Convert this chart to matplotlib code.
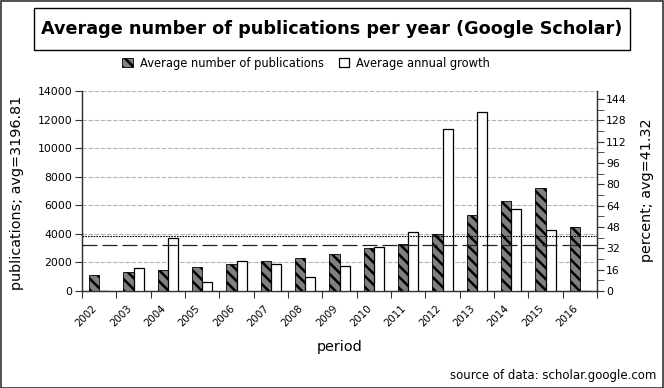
import matplotlib
matplotlib.use('Agg')
import matplotlib.pyplot as plt
import numpy as np
from matplotlib.patches import Rectangle, Patch
from matplotlib.lines import Line2D
from matplotlib.ticker import MultipleLocator

# ---- data ----
years = ['2002', '2003', '2004', '2005', '2006', '2007', '2008', '2009',
         '2010', '2011', '2012', '2013', '2014', '2015', '2016']
publications = [1120, 1307, 1493, 1657, 1890, 2100, 2287, 2567,
                2987, 3290, 3967, 5320, 6320, 7210, 4480]
growth = [0, 17.5, 39.5, 6.5, 22.75, 20.0, 10.5, 18.5,
          33.0, 44.5, 121.3, 134.5, 61.7, 45.75, 0]
avg_publications = 3196.81
avg_growth = 41.32
left_ticks = list(range(0, 14001, 2000))
right_ticks = list(range(0, 145, 16))

title = 'Average number of publications per year (Google Scholar)'
series_names = ['Average number of publications', 'Average annual growth']

plt.rcParams['font.family'] = ['DejaVu Sans']
plt.rcParams['hatch.linewidth'] = 1.8
plt.rcParams['hatch.color'] = 'black'

W, H = 664, 388
fig = plt.figure(figsize=(W / 100, H / 100), dpi=100)

# outer border
fig.patches.append(Rectangle((0.5 / W, 0.5 / H), 1 - 1.5 / W, 1 - 1.5 / H,
                             transform=fig.transFigure, fill=False,
                             edgecolor='#333333', linewidth=1.2, zorder=0))
# title box
fig.patches.append(Rectangle((34 / W, 1 - 50 / H), (630 - 34) / W, 42 / H,
                             transform=fig.transFigure, facecolor='white',
                             edgecolor='black', linewidth=1.0, zorder=1))
fig.text(332 / W, 1 - 29 / H, title, ha='center', va='center',
         fontsize=12.7, fontweight='bold', zorder=2)

ax = fig.add_axes([82 / W, 1 - 291 / H, 515 / W, 200 / H])
ax2 = ax.twinx()

x = np.arange(len(years))
w = 0.3
ax.bar(x - w / 2, publications, w, color='#808080', edgecolor='black',
       hatch='\\\\\\', linewidth=0.6, zorder=3)
ax2.bar(x + w / 2, growth, w, color='white', edgecolor='black',
        linewidth=0.9, zorder=3)

ax.set_xlim(-0.5, len(years) - 0.5)
ax.set_ylim(0, 14000)
ax2.set_ylim(0, 150)

ax.set_axisbelow(True)
ax.yaxis.grid(True, color='#b3b3b3', linestyle=(0, (4, 1.5)), linewidth=0.8)

# average lines (on top)
ax2.add_line(Line2D([0, 1], [avg_publications, avg_publications],
                    transform=ax.get_yaxis_transform(), color='#222222',
                    linewidth=0.9, linestyle=(0, (12, 4)), zorder=5))
ax2.add_line(Line2D([0, 1], [avg_growth, avg_growth],
                    transform=ax2.get_yaxis_transform(), color='black',
                    linewidth=0.8, linestyle=(0, (1.5, 1)), zorder=5))

# ticks
ax.set_xticks(np.arange(-0.5, len(years), 1.0))
ax.set_xticklabels([])
ax.set_xticks(x, minor=True)
ax.set_xticklabels(years, minor=True, rotation=45, ha='right', fontsize=7.4)
ax.tick_params(axis='x', which='major', length=5, direction='out', color='#333333')
ax.tick_params(axis='x', which='minor', length=0, pad=9)

ax.set_yticks(left_ticks)
ax.tick_params(axis='y', length=5, direction='out', labelsize=7.8, pad=2, color='#333333')
ax2.set_yticks(right_ticks)
ax2.yaxis.set_minor_locator(MultipleLocator(8))
ax2.tick_params(axis='y', which='both', length=5, direction='out', labelsize=7.8, pad=1.5, color='#333333')

for a in (ax, ax2):
    a.spines['top'].set_visible(False)
    for s in ('left', 'right', 'bottom'):
        a.spines[s].set_color('#333333')
        a.spines[s].set_linewidth(0.9)

ax.set_ylabel('publications; avg=3196.81', fontsize=10.4)
ax.yaxis.set_label_coords(-0.1125, 0.49)
ax2.set_ylabel('percent; avg=41.32', fontsize=10.4)
ax2.yaxis.set_label_coords(1.0835, 0.505)
ax.set_xlabel('period', fontsize=10.4)
ax.xaxis.set_label_coords(0.5, -0.28)
ax.xaxis.label.set_va('center')

handles = [Patch(facecolor='#808080', edgecolor='black', hatch='\\\\\\', linewidth=0.6),
           Patch(facecolor='white', edgecolor='black', linewidth=0.9)]
fig.legend(handles, series_names, loc='center', ncol=2, frameon=False,
           bbox_to_anchor=(306 / W, 1 - 63 / H), fontsize=8.3,
           handlelength=0.9, handleheight=0.9, handletextpad=0.6,
           columnspacing=1.3)

fig.text(656 / W, 1 - 376 / H, 'source of data: scholar.google.com',
         ha='right', va='center', fontsize=8.5)

fig.savefig('out.png', dpi=100)
